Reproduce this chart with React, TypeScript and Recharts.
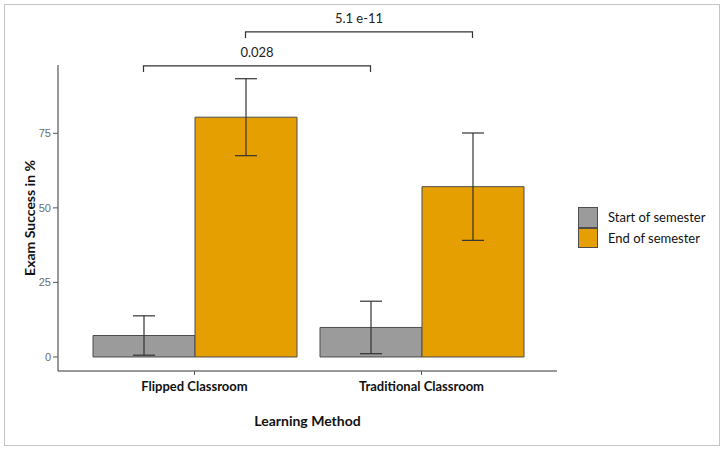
import React from 'react';
import { BarChart, Bar, XAxis, YAxis, ErrorBar, ReferenceLine, Legend } from 'recharts';

// values (mean and error half-width, in %)
const methods = ['Flipped Classroom', 'Traditional Classroom'];
const startMean = [7.2, 9.9];
const startErr = [6.6, 8.8];
const endMean = [80.4, 57.1];
const endErr = [12.9, 18.0];
const yTicks = [0, 25, 50, 75];

const seriesNames = ['Start of semester', 'End of semester'];
const seriesColors = ['#9b9b9b', '#E69F00'];

// significance brackets between the two methods
const pLabels = ['0.028', '5.1 e-11'];
const pSeries = ['start', 'end'];
const pHeights = [97.6, 109];

const FONT = 'Lato, "Open Sans", sans-serif';
const BAR_SIZE = 102;

const data = methods.map((m, i) => ({
  method: m,
  start: startMean[i],
  startErr: startErr[i],
  end: endMean[i],
  endErr: endErr[i],
}));

const makeBracket = (label: string, dx: number) => (props: any) => {
  const { x1, x2, y1 } = props;
  const a = x1 + dx;
  const b = x2 + dx;
  return (
    <g>
      <path d={`M${a},${y1 + 6}V${y1}H${b}V${y1 + 6}`} fill="none" stroke="#333" strokeWidth={1.2} />
      <text x={(a + b) / 2} y={y1 - 9} textAnchor="middle" fontSize={13} fontFamily={FONT} fill="#222">
        {label}
      </text>
    </g>
  );
};

// legend keeps the series order (start first)
const renderLegend = () => (
  <div style={{ fontFamily: FONT }}>
    {seriesNames.map((name, i) => (
      <div key={name} style={{ display: 'flex', alignItems: 'center', height: 20.5 }}>
        <div
          style={{
            width: 20,
            height: 20.5,
            background: seriesColors[i],
            border: '1px solid #4d4d4d',
            boxSizing: 'border-box',
          }}
        />
        <span style={{ marginLeft: 10, fontSize: 13, color: '#111' }}>{name}</span>
      </div>
    ))}
  </div>
);

export default function App() {
  return (
    <div style={{ position: 'absolute', left: 0, top: 0, width: 726, height: 453, background: '#fff' }}>
      <div
        style={{
          position: 'absolute',
          left: 4,
          top: 4,
          width: 716,
          height: 442,
          border: '1px solid #c4c4c4',
          boxSizing: 'border-box',
        }}
      />
      <BarChart
        width={726}
        height={453}
        data={data}
        margin={{ top: 65, right: 169, bottom: 22, left: 8 }}
        barGap={0}
        barSize={BAR_SIZE}
      >
        <XAxis
          dataKey="method"
          padding={{ left: 23, right: 22 }}
          height={60}
          axisLine={{ stroke: '#333' }}
          tickLine={{ stroke: '#555' }}
          tickSize={4}
          tickMargin={7}
          tick={{ fontSize: 13, fontWeight: 700, fill: '#111', fontFamily: FONT }}
          label={{
            value: 'Learning Method',
            position: 'insideBottom',
            offset: 5,
            style: { fontSize: 14, fontWeight: 700, fill: '#111', fontFamily: FONT },
          }}
        />
        <YAxis
          domain={[-4.7, 97.9]}
          ticks={yTicks}
          allowDataOverflow
          width={50}
          axisLine={{ stroke: '#333' }}
          tickLine={{ stroke: '#555' }}
          tickSize={5}
          tickMargin={2}
          tick={{ fontSize: 11, fill: '#6b6b6b', fontFamily: '"Liberation Sans", Arial, sans-serif' }}
          label={{
            value: 'Exam Success  in %',
            angle: -90,
            position: 'insideLeft',
            offset: 22,
            style: { textAnchor: 'middle', fontSize: 14, fontWeight: 700, fill: '#111', fontFamily: FONT },
          }}
        />
        <Legend
          layout="vertical"
          align="center"
          verticalAlign="middle"
          wrapperStyle={{ left: 578, top: 207, width: 140 }}
          content={renderLegend}
        />
        <Bar dataKey="start" name={seriesNames[0]} fill={seriesColors[0]} stroke="#4d4d4d" strokeWidth={1} isAnimationActive={false}>
          <ErrorBar dataKey="startErr" width={11} stroke="#333" strokeWidth={1.2} isAnimationActive={false} />
        </Bar>
        <Bar dataKey="end" name={seriesNames[1]} fill={seriesColors[1]} stroke="#4d4d4d" strokeWidth={1} isAnimationActive={false}>
          <ErrorBar dataKey="endErr" width={11} stroke="#333" strokeWidth={1.2} isAnimationActive={false} />
        </Bar>
        {pLabels.map((lab, i) => (
          <ReferenceLine
            key={lab}
            ifOverflow="visible"
            segment={[
              { x: methods[0], y: pHeights[i] },
              { x: methods[1], y: pHeights[i] },
            ]}
            shape={makeBracket(lab, pSeries[i] === 'start' ? -BAR_SIZE / 2 : BAR_SIZE / 2)}
          />
        ))}
      </BarChart>
    </div>
  );
}
